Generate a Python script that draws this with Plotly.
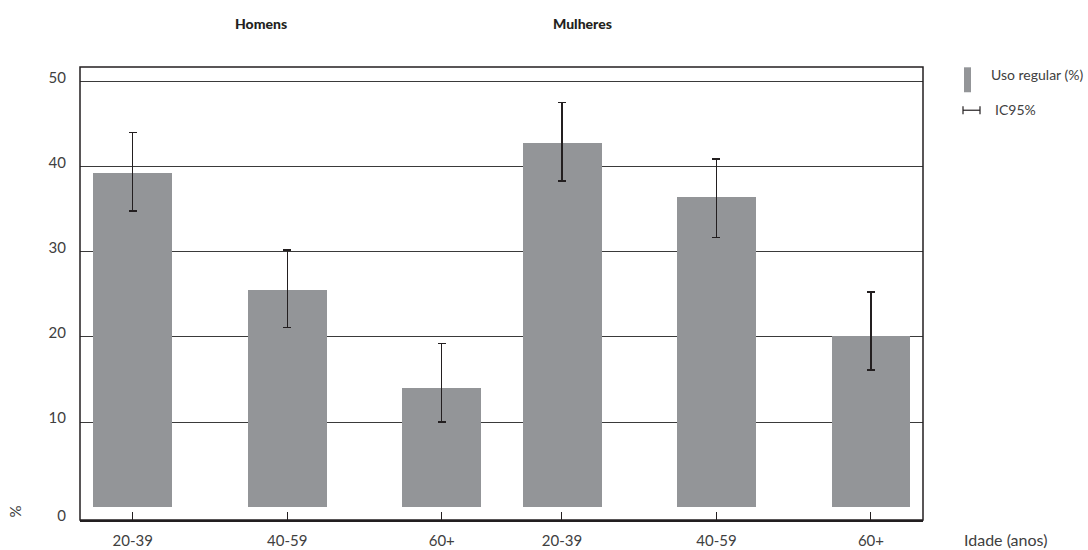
import plotly.graph_objects as go

# Data
age_groups = ["20-39", "40-59", "60+"]
men_values = [39.2, 25.5, 14.0]
men_ci_upper = [44.0, 30.2, 19.2]
men_ci_lower = [34.8, 21.1, 10.0]
women_values = [42.8, 36.4, 20.1]
women_ci_upper = [47.5, 40.9, 25.3]
women_ci_lower = [38.3, 31.7, 16.1]
y_tick_values = [-1.5, 10, 20, 30, 40, 50]
y_tick_labels = ["0", "10", "20", "30", "40", "50"]

BAR = "#939598"
INK = "#231f20"
TXT = "#404040"
FONT = "Lato"
REG = dict(family=FONT, size=15, color=TXT, weight=400)

fig = go.Figure()

def add_group(values, upper, lower, xa, ya):
    fig.add_trace(go.Bar(
        x=age_groups, y=values, xaxis=xa, yaxis=ya,
        marker=dict(color=BAR, line=dict(width=0)),
        width=0.51, showlegend=False,
        error_y=dict(type="data", symmetric=False,
                     array=[u - v for u, v in zip(upper, values)],
                     arrayminus=[v - l for v, l in zip(values, lower)],
                     color=INK, thickness=1.4, width=4),
    ))

add_group(men_values, men_ci_upper, men_ci_lower, "x", "y")
add_group(women_values, women_ci_upper, women_ci_lower, "x2", "y2")

split = 0.5004
xcommon = dict(type="category", showline=True, linecolor=INK, linewidth=1.5,
               ticks="inside", ticklen=8, tickcolor=INK, tickwidth=1.2,
               showgrid=False, zeroline=False, automargin=False,
               tickfont=REG, ticklabelstandoff=6)
ycommon = dict(range=[-1.5, 51.7], tickvals=y_tick_values, ticktext=y_tick_labels,
               showgrid=True, gridcolor="#3a3a3a", gridwidth=1.3, automargin=False,
               zeroline=False, showline=False, ticks="")

fig.update_layout(
    width=1088, height=550,
    margin=dict(l=80, r=165, t=67, b=30),
    plot_bgcolor="white", paper_bgcolor="white",
    bargap=0,
    xaxis=dict(domain=[0, split], range=[-0.341, 2.389], anchor="y", **xcommon),
    xaxis2=dict(domain=[split, 1], range=[-0.389, 2.337], anchor="y2", **xcommon),
    yaxis=dict(anchor="x", showticklabels=True, tickfont=REG,
               ticklabelstandoff=13, ticklabelshift=-4, **ycommon),
    yaxis2=dict(anchor="x2", matches="y", showticklabels=False, **ycommon),
    font=dict(family=FONT, color=TXT),
)

# Plot frame
fig.add_shape(type="rect", xref="paper", yref="paper", x0=0, x1=1, y0=0, y1=1,
              line=dict(color=INK, width=1.5), fillcolor="rgba(0,0,0,0)", layer="above")

def px(xp):
    return (xp - 80) / 843

def py(yp):
    return (520.5 - yp) / 453.8

def label(text, x, y, xanchor="center", size=15, bold=False, angle=0):
    fig.add_annotation(text=text, xref="paper", yref="paper", x=px(x), y=py(y),
                       xanchor=xanchor, yanchor="middle", showarrow=False,
                       textangle=angle,
                       font=dict(family=FONT, size=size, color=INK if bold else TXT,
                                 weight=900 if bold else 400))

# Group titles
label("Homens", 261, 23, size=14, bold=True)
label("Mulheres", 582, 23, size=14, bold=True)

# Axis titles
label("Idade (anos)", 962, 540, xanchor="left", size=16)
label("%", 15, 512, angle=-90)

# Manual legend
fig.add_shape(type="rect", xref="paper", yref="paper",
              x0=px(964), x1=px(971), y0=py(92), y1=py(67),
              fillcolor=BAR, line=dict(width=0))
label("Uso regular (%)", 989, 74, xanchor="left", size=14)
for x0, x1, y0, y1 in [(963, 980, 110, 110), (963, 963, 106, 114), (980, 980, 106, 114)]:
    fig.add_shape(type="line", xref="paper", yref="paper",
                  x0=px(x0), x1=px(x1), y0=py(y0), y1=py(y1),
                  line=dict(color=INK, width=1.2))
label("IC95%", 993, 109, xanchor="left", size=14)

fig.write_html("out.html")
